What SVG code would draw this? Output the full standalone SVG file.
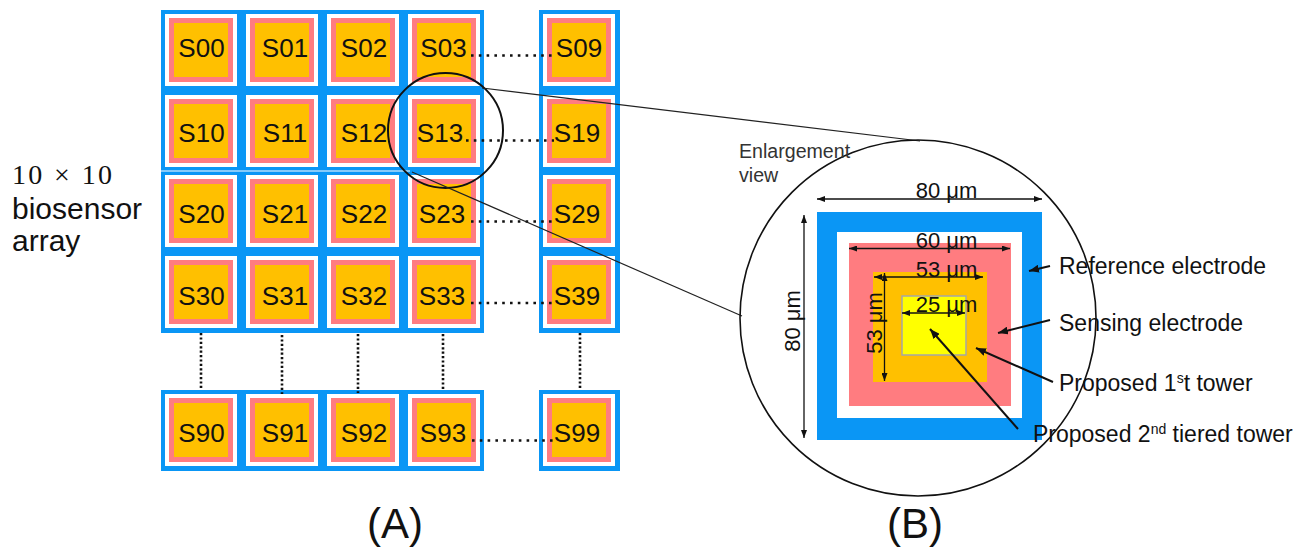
<svg xmlns="http://www.w3.org/2000/svg" xmlns:xlink="http://www.w3.org/1999/xlink" width="1310" height="556" viewBox="0 0 1310 556">
  <style>
    .blue { fill: #0a96f5; }
    .lbl { font-family: "Liberation Sans", Arial, sans-serif; font-size: 26px; fill: #111; text-anchor: middle; }
    .dim { font-family: "Liberation Sans", Arial, sans-serif; font-size: 22px; fill: #111; text-anchor: middle; }
    .note { font-family: "Liberation Sans", Arial, sans-serif; font-size: 23px; fill: #111; }
    .side { font-family: "Liberation Sans", Arial, sans-serif; font-size: 30px; fill: #111; }
    .cap { font-family: "Liberation Sans", Arial, sans-serif; font-size: 42px; fill: #111; text-anchor: middle; }
    .dotsH { stroke: #111; stroke-width: 2.6; stroke-dasharray: 2.6 5.2; fill: none; }
    .dotsV { stroke: #111; stroke-width: 2.6; stroke-dasharray: 2.2 2.2; fill: none; }
    .dimline { stroke: #111; stroke-width: 1.3; fill: none; marker-start: url(#tip); marker-end: url(#tip); }
    .leader { stroke: #111; stroke-width: 2; fill: none; marker-end: url(#lead); }
    .zoomline { stroke: #222; stroke-width: 1.2; fill: none; }
  </style>
  <defs>
    <!-- one sensor pixel: white gap, sensing electrode, tower -->
    <g id="pix">
      <rect x="0" y="0" width="72" height="72" fill="#ffffff"/>
      <rect x="4" y="4" width="64" height="64" fill="#ff7c80"/>
      <rect x="9" y="9" width="54" height="54" fill="#ffc000"/>
    </g>
    <marker id="tip" viewBox="0 0 8 6" refX="8" refY="3" markerWidth="8" markerHeight="6" markerUnits="userSpaceOnUse" orient="auto-start-reverse">
      <path d="M0,0 L8,3 L0,6 z" fill="#111"/>
    </marker>
    <marker id="lead" viewBox="0 0 10 8" refX="10" refY="4" markerWidth="10" markerHeight="8" markerUnits="userSpaceOnUse" orient="auto">
      <path d="M0,0 L10,4 L0,8 z" fill="#111"/>
    </marker>
  </defs>

  <rect width="1310" height="556" fill="#ffffff"/>

  <!-- reference electrode grid (blue) -->
  <g id="grid">
    <rect class="blue" x="161" y="10" width="323" height="323"/>
    <rect class="blue" x="539" y="10" width="81" height="323"/>
    <rect class="blue" x="161" y="390" width="323" height="81"/>
    <rect class="blue" x="539" y="390" width="81" height="81"/>
    <line x1="161" y1="171" x2="410" y2="171" stroke="#ffffff" stroke-width="1"/>
  </g>

  <!-- sensor pixels -->
  <g id="S00"><use xlink:href="#pix" x="165" y="14"/><text class="lbl" x="201.5" y="57">S00</text></g>
  <g id="S01"><use xlink:href="#pix" x="246" y="14"/><text class="lbl" x="285" y="57">S01</text></g>
  <g id="S02"><use xlink:href="#pix" x="327" y="14"/><text class="lbl" x="364" y="57">S02</text></g>
  <g id="S03"><use xlink:href="#pix" x="408" y="14"/><text class="lbl" x="443.5" y="57">S03</text></g>
  <g id="S09"><use xlink:href="#pix" x="543" y="14"/><text class="lbl" x="579" y="57">S09</text></g>

  <g id="S10"><use xlink:href="#pix" x="165" y="95"/><text class="lbl" x="201.5" y="142">S10</text></g>
  <g id="S11"><use xlink:href="#pix" x="246" y="95"/><text class="lbl" x="285" y="142">S11</text></g>
  <g id="S12"><use xlink:href="#pix" x="327" y="95"/><text class="lbl" x="364" y="142">S12</text></g>
  <g id="S13"><use xlink:href="#pix" x="408" y="95"/><text class="lbl" x="440" y="142">S13</text></g>
  <g id="S19"><use xlink:href="#pix" x="543" y="95"/><text class="lbl" x="577" y="142">S19</text></g>

  <g id="S20"><use xlink:href="#pix" x="165" y="175"/><text class="lbl" x="201.5" y="223">S20</text></g>
  <g id="S21"><use xlink:href="#pix" x="246" y="175"/><text class="lbl" x="285" y="223">S21</text></g>
  <g id="S22"><use xlink:href="#pix" x="327" y="175"/><text class="lbl" x="364" y="223">S22</text></g>
  <g id="S23"><use xlink:href="#pix" x="408" y="175"/><text class="lbl" x="442" y="223">S23</text></g>
  <g id="S29"><use xlink:href="#pix" x="543" y="175"/><text class="lbl" x="577" y="223">S29</text></g>

  <g id="S30"><use xlink:href="#pix" x="165" y="256"/><text class="lbl" x="201.5" y="305">S30</text></g>
  <g id="S31"><use xlink:href="#pix" x="246" y="256"/><text class="lbl" x="285" y="305">S31</text></g>
  <g id="S32"><use xlink:href="#pix" x="327" y="256"/><text class="lbl" x="364" y="305">S32</text></g>
  <g id="S33"><use xlink:href="#pix" x="408" y="256"/><text class="lbl" x="442" y="305">S33</text></g>
  <g id="S39"><use xlink:href="#pix" x="543" y="256"/><text class="lbl" x="577" y="305">S39</text></g>

  <g id="S90"><use xlink:href="#pix" x="165" y="394"/><text class="lbl" x="201.5" y="442">S90</text></g>
  <g id="S91"><use xlink:href="#pix" x="246" y="394"/><text class="lbl" x="285" y="442">S91</text></g>
  <g id="S92"><use xlink:href="#pix" x="327" y="394"/><text class="lbl" x="364" y="442">S92</text></g>
  <g id="S93"><use xlink:href="#pix" x="408" y="394"/><text class="lbl" x="443" y="442">S93</text></g>
  <g id="S99"><use xlink:href="#pix" x="543" y="394"/><text class="lbl" x="577" y="442">S99</text></g>

  <!-- elided rows / columns -->
  <g id="ellipsis">
    <line class="dotsH" x1="471" y1="55.5" x2="554" y2="55.5"/>
    <line class="dotsH" x1="466" y1="140.5" x2="554" y2="140.5"/>
    <line class="dotsH" x1="471" y1="221.5" x2="554" y2="221.5"/>
    <line class="dotsH" x1="471" y1="303" x2="554" y2="303"/>
    <line class="dotsH" x1="472" y1="440.5" x2="554" y2="440.5"/>
    <line class="dotsV" x1="201" y1="333" x2="201" y2="390"/>
    <line class="dotsV" x1="282" y1="335" x2="282" y2="394"/>
    <line class="dotsV" x1="358" y1="334" x2="358" y2="393"/>
    <line class="dotsV" x1="443" y1="334" x2="443" y2="390"/>
    <line class="dotsV" x1="580" y1="333" x2="580" y2="390"/>
  </g>

  <!-- array caption -->
  <g id="array-label">
    <text x="12" y="184" font-family="'Liberation Serif', 'Times New Roman', serif" font-size="28" fill="#111" textLength="100" lengthAdjust="spacing">10 × 10</text>
    <text class="side" x="12" y="219">biosensor</text>
    <text class="side" x="12" y="251">array</text>
  </g>

  <!-- magnifier -->
  <g id="connectors">
    <circle cx="445.5" cy="130.5" r="57.5" fill="none" stroke="#111" stroke-width="2"/>
    <line class="zoomline" x1="482" y1="88" x2="920" y2="141"/>
    <line class="zoomline" x1="412" y1="172" x2="742" y2="316"/>
  </g>

  <!-- enlarged pixel -->
  <g id="enlargement">
    <circle cx="918" cy="318" r="178" fill="none" stroke="#111" stroke-width="1.6"/>
    <text x="739" y="158" font-family="'Liberation Sans', Arial, sans-serif" font-size="19.6" fill="#333">Enlargement</text>
    <text x="739" y="182" font-family="'Liberation Sans', Arial, sans-serif" font-size="19.6" fill="#333">view</text>
    <rect x="817" y="212" width="225" height="228" fill="#0a96f5"/>
    <rect x="837" y="232" width="185" height="186" fill="#ffffff"/>
    <rect x="849" y="243" width="162" height="163" fill="#ff7c80"/>
    <rect x="873" y="272" width="114" height="110" fill="#ffc000"/>
    <rect x="902" y="296" width="64" height="59" fill="#ffff00" stroke="#a6a6a6" stroke-width="1.5"/>
  </g>

  <g id="dimensions">
    <line class="dimline" x1="817" y1="199" x2="1042" y2="199"/>
    <text class="dim" x="946.5" y="198">80 μm</text>
    <line class="dimline" x1="804" y1="215" x2="804" y2="438"/>
    <text class="dim" transform="translate(800 321) rotate(-90)">80 μm</text>
    <line class="dimline" x1="849" y1="248.5" x2="1010" y2="248.5"/>
    <text class="dim" x="946.5" y="248">60 μm</text>
    <line class="dimline" x1="874" y1="277" x2="983" y2="277"/>
    <text class="dim" x="946.5" y="277">53 μm</text>
    <line class="dimline" x1="884.5" y1="273" x2="884.5" y2="381"/>
    <text class="dim" transform="translate(882 323) rotate(-90)">53 μm</text>
    <line class="dimline" x1="902" y1="313" x2="965" y2="313"/>
    <text class="dim" x="946.5" y="312">25 μm</text>
  </g>

  <g id="callouts">
    <line class="leader" x1="1050" y1="266" x2="1029" y2="271"/>
    <text class="note" x="1059" y="274">Reference electrode</text>
    <line class="leader" x1="1050" y1="320" x2="998" y2="333"/>
    <text class="note" x="1059" y="331">Sensing electrode</text>
    <line class="leader" x1="1053" y1="382" x2="976" y2="348"/>
    <text class="note" x="1059" y="391">Proposed 1<tspan font-size="14" dy="-8">s</tspan><tspan dy="8">t tower</tspan></text>
    <line class="leader" x1="1018" y1="429" x2="930" y2="329"/>
    <text class="note" x="1033" y="442">Proposed 2<tspan font-size="14" dy="-8">nd</tspan><tspan dy="8"> tiered tower</tspan></text>
  </g>

  <g id="captions">
    <text class="cap" x="395" y="538">(A)</text>
    <text class="cap" x="915" y="538">(B)</text>
  </g>
</svg>
